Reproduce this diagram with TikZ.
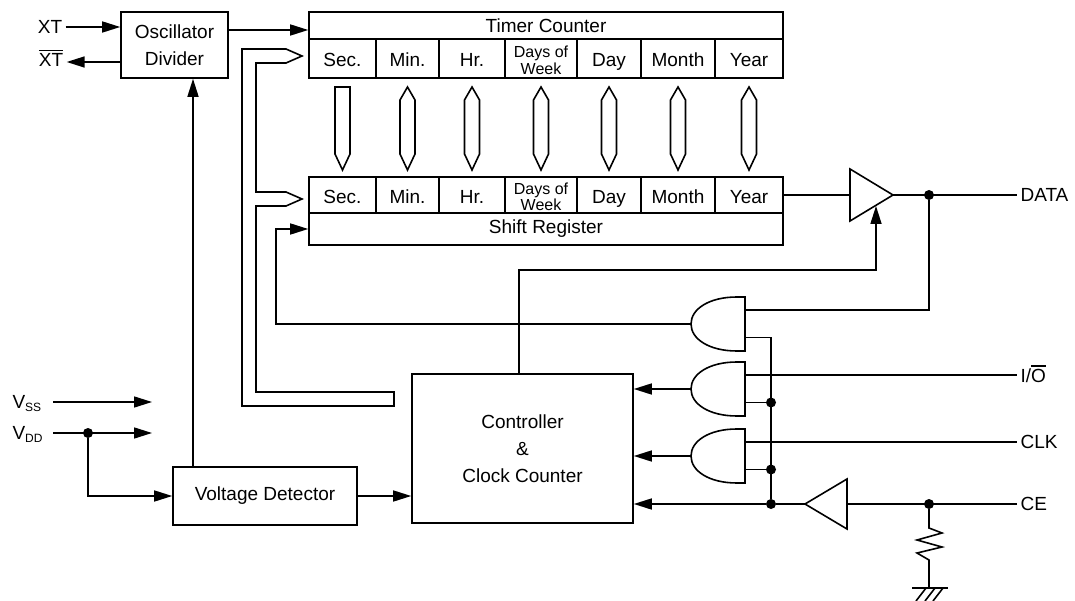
\documentclass[tikz,border=0pt]{standalone}
\usepackage{fontspec}
\setmainfont{Liberation Sans}
\usetikzlibrary{arrows.meta,calc}
\newcommand{\dow}{\fontsize{16}{16}\selectfont\begin{tabular}{@{}c@{}}Days of\\Week\end{tabular}}
\newcommand{\ovl}[1]{\vbox{\hrule height 1.4pt\kern 2.5pt\hbox{#1}}}

\begin{document}
\begin{tikzpicture}[x=1pt, y=-1pt, font=\fontsize{19}{27}\selectfont,
  wire/.style={line width=1.6pt},
  arr/.style={wire, -{Triangle[length=18pt,width=11pt]}},
  box/.style={draw, line width=1.6pt, inner sep=0pt, align=center},
  cell/.style={box, text height=17pt, text depth=0pt},
  dot/.style={circle, fill, inner sep=0pt, minimum size=10pt},
  andg/.pic={
    \draw[wire] (0,-27) -- (-8,-27) .. controls (-36,-27) and (-54,-15) .. (-54,0)
      .. controls (-54,15) and (-36,27) .. (-8,27) -- (0,27) -- cycle;
    \coordinate (-out) at (-54,0);
    \coordinate (-a) at (0,-14);
    \coordinate (-b) at (0,13.5);
  }]
\useasboundingbox (0,0) rectangle (1075,601);

% Draw oscillator
\node[box, minimum width=107, minimum height=66] (osc) at (174.5,45) {Oscillator\\Divider};
\node[anchor=base] (xt) at (50,34) {XT};
\node[anchor=base] (xtb) at (51,67) {\ovl{XT}};
\draw[arr] ($(xt.base east)+(0,-7)$) coordinate (xa) -- (xa -| osc.west);
\draw[arr] ($(osc.west |- xtb.base)+(0,-5)$) coordinate (xb) -- (xb -| xtb.east);

% Draw registers
\node[box, minimum width=474, minimum height=27] (tc) at (546,25.5) {Timer Counter};
\node[box, minimum width=474, minimum height=32] (sr) at (546,229) {Shift Register};
\foreach \xa/\xb/\lab [count=\i] in {309/376/Sec., 376/439/Min., 439/505/Hr., 505/577/\dow, 577/641/Day, 641/715/Month, 715/783/Year}{
  \pgfmathsetmacro{\cx}{(\xa+\xb)/2}
  \node[cell, minimum width=\xb-\xa, minimum height=39] (tc\i) at (\cx,58.5) {\lab};
  \node[cell, minimum width=\xb-\xa, minimum height=36] (sr\i) at (\cx,195) {\lab};
  \ifnum\i=1
    \draw[wire] (\cx-7.5,87) -- (\cx+7.5,87) -- (\cx+7.5,154) -- (\cx,170) -- (\cx-7.5,154) -- cycle;
  \else
    \draw[wire] (\cx,87) -- (\cx+7.5,100) -- (\cx+7.5,154) -- (\cx,170) -- (\cx-7.5,154) -- (\cx-7.5,100) -- cycle;
  \fi
}
\draw[arr] ($(osc.east)+(0,-15)$) coordinate (oo) -- (oo -| tc.west);

% Draw bus
\draw[wire] (302,56) -- (286,49) -- (242,49) -- (242,406) -- (394,406) -- (394,392) -- (256,392)
  -- (256,206) -- (286,206) -- (302,199) -- (286,192) -- (256,192) -- (256,63) -- (286,63) -- cycle;

% Draw controller and supply
\node[box, minimum width=221, minimum height=149] (ctl) at (522.5,448.5) {Controller\\\&\\Clock Counter};
\node[box, minimum width=184, minimum height=58] (vd) at (265,496) {Voltage Detector};
\coordinate (vdx) at (193,0);
\draw[arr] (vd.north -| vdx) -- (osc.south -| vdx);
\draw[arr] (vd.east) -- (vd.east -| ctl.west);
\node[anchor=base west] (vss) at (9,408) {V\raisebox{-3pt}{\fontsize{12}{12}\selectfont SS}};
\node[anchor=base west] (vdd) at (9,439) {V\raisebox{-3pt}{\fontsize{12}{12}\selectfont DD}};
\coordinate (vssend) at (152,402);
\coordinate (vddend) at (152,433);
\draw[arr] (53,402) -- (vssend);
\draw[arr] (53,433) -- (vddend);
\node[dot] (vj) at (88,433) {};
\draw[arr] (vj) |- (vd.west);

% Draw output buffer
\coordinate (bin) at (850,195);
\coordinate (bout) at (893,195);
\coordinate (ben) at (876,206);
\coordinate (ctx) at (519,270);
\draw[wire] (850,169) -- (bout) -- (850,221) -- cycle;
\draw[wire] (sr7.east) -- (bin);
\draw[arr] (ctl.north -| ctx) -- (ctx) -| (ben);
\node[anchor=west] (data) at (1017,195) {DATA};
\node[dot] (dj) at (929,195) {};
\draw[wire] (bout) -- (data.west);

% Draw gates
\pic (g1) at (745,324) {andg};
\pic (g2) at (745,389) {andg};
\pic (g3) at (745,456) {andg};
\node[anchor=west] (io) at (1017,374) {I/\ovl{O}};
\node[anchor=west] (clk) at (1017,442) {CLK};
\node[anchor=west] (ce) at (1017,504) {CE};
\coordinate (bus) at (771,0);
\node[dot] (j2) at (g2-b -| bus) {};
\node[dot] (j3) at (g3-b -| bus) {};
\node[dot] (j4) at (ce -| bus) {};
\draw[wire] (dj) |- (g1-a);
\draw[wire] (g1-b) -| (j4);
\draw[wire] (g2-b) -- (j2);
\draw[wire] (g3-b) -- (j3);
\draw[wire] (g2-a) -- (g2-a -| io.west);
\draw[wire] (g3-a) -- (g3-a -| clk.west);
\draw[arr] (g1-out) -- ++(-415,0) |- (sr.west);
\draw[arr] (g2-out) -- (g2-out -| ctl.east);
\draw[arr] (g3-out) -- (g3-out -| ctl.east);

% Draw CE input
\coordinate (cin) at (847,504);
\coordinate (cout) at (805,504);
\draw[wire] (847,479) -- (cout) -- (847,529) -- cycle;
\node[dot] (rj) at (929,504) {};
\draw[wire] (ce.west) -- (cin);
\draw[wire] (cout) -- (j4);
\draw[arr] (j4) -- (j4 -| ctl.east);

% Draw resistor and ground
\draw[wire] (rj) -- (929,528) -- (942,533) -- (917,540) -- (942,547) -- (917,553) -- (929,560) -- (929,588);
\draw[wire] (912,588) -- (948,588);
\draw[wire] (926,588) -- (916,601) (935,588) -- (925,601) (943,588) -- (933,601);
\end{tikzpicture}
\end{document}
